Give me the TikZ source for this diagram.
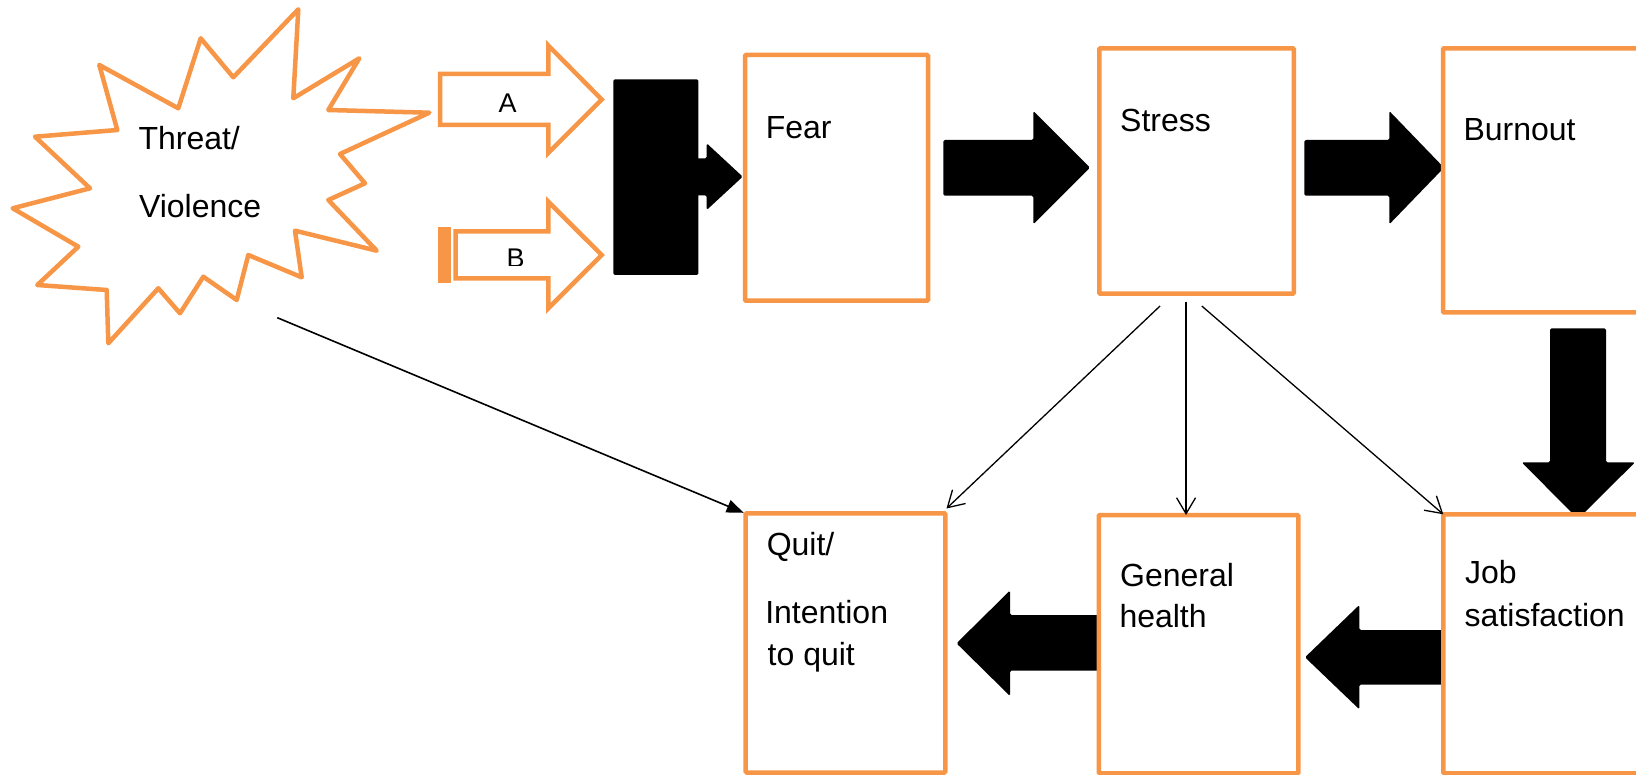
\documentclass[tikz,border=0pt]{standalone}
\usepackage{fontspec}
\setmainfont{Liberation Sans}
\usetikzlibrary{arrows.meta,calc}
\definecolor{orng}{HTML}{F79646}
\begin{document}
\begin{tikzpicture}[x=1pt,y=-1pt,
 box/.style={draw=orng, line width=4.5pt, fill=white, rectangle, inner sep=0pt, outer sep=0pt, rounded corners=1pt},
 txt/.style={anchor=base west, inner sep=0pt, outer sep=0pt, font=\fontsize{32}{38}\selectfont},
 lbl/.style={anchor=base, inner sep=0pt, outer sep=0pt, font=\fontsize{27}{32}\selectfont},
 blk/.style={fill=black, rounded corners=1.5pt},
 barb/.style={line width=1.3pt, -{Straight Barb[length=16pt,width=19pt]}},
 tri/.style={line width=1.6pt, -{Triangle[length=17pt,width=13pt]}},
 burst/.style={draw=orng, line width=4.5pt, line join=round, fill=white},
 hollow/.style={draw=orng, line width=4.5pt, line join=miter, fill=white}]
\useasboundingbox (0,0) rectangle (1636,775);
\clip (0,0) rectangle (1636,775);

% starburst
\draw[burst] (298.3,9.3) -- (293.3,98.3) -- (359.3,58.3) -- (328.3,110) -- (429.3,112.7)
 -- (340,154) -- (365,183.3) -- (328.3,200) -- (376.7,250.7) -- (295,230.7)
 -- (301.7,277.3) -- (248.3,255) -- (236.7,300) -- (203.3,276.7) -- (180,313.3)
 -- (158.3,288.3) -- (108.3,343.3) -- (106.7,290) -- (37.3,285) -- (78.3,246.7)
 -- (12.7,208.3) -- (90,188.3) -- (35,136.7) -- (117.3,130) -- (99.3,65)
 -- (178.3,108.3) -- (200.7,38.3) -- (233.3,77.3) -- cycle;
\node[txt] (threat1) at (138.5,150) {Threat/};
\node[txt] (threat2) at (139,218) {Violence};
\coordinate (threatout) at (277.3,317.7);

% hollow arrows A and B
\draw[hollow] (440,74) -- (548.3,74) -- (548.3,45.5) -- (601.7,99.5) -- (548.3,153) -- (548.3,125) -- (440,125) -- cycle;
\node[lbl] (labA) at (507.5,112.7) {A};
\fill[orng] (438.3,227.3) rectangle (451,282.7);
\draw[hollow] (455.5,231.5) -- (548.3,231.5) -- (548.3,201.7) -- (601.7,255) -- (548.3,308.3) -- (548.3,278.3) -- (455.5,278.3) -- cycle;
\begin{scope}
\clip (458,234) rectangle (546,266);
\node[lbl] (labB) at (515.5,268) {B};
\end{scope}

% black combining shape
\fill[blk] (613.3,79.3) rectangle (698.3,275);
\fill[blk] (696,158.3) -- (706.7,158.3) -- (706.7,143.3) -- (742.7,176.7) -- (706.7,210) -- (706.7,195.3) -- (696,195.3) -- cycle;

% block arrows top row
\fill[blk] (943.3,140) -- (1033.3,140) -- (1033.3,111) -- (1090,167.7) -- (1033.3,224.3) -- (1033.3,195.7) -- (943.3,195.7) -- cycle;
\fill[blk] (1304.3,140) -- (1389.3,140) -- (1389.3,111) -- (1444,167.7) -- (1389.3,224.3) -- (1389.3,195.7) -- (1304.3,195.7) -- cycle;
% down arrow
\fill[blk] (1550,328.3) -- (1606,328.3) -- (1606,462.3) -- (1635,462.3) -- (1578,519) -- (1521.7,462.3) -- (1550,462.3) -- cycle;
% left arrows bottom row
\fill[blk] (1447,630) -- (1359.3,630) -- (1359.3,605) -- (1305,657.3) -- (1359.3,709.3) -- (1359.3,684.5) -- (1447,684.5) -- cycle;
\fill[blk] (1101.7,615) -- (1010,615) -- (1010,590.5) -- (956.5,643.3) -- (1010,696) -- (1010,670.7) -- (1101.7,670.7) -- cycle;

% boxes
\node[box, minimum width=183pt, minimum height=245.7pt] (fear) at (836.5,177.85) {};
\node[box, minimum width=194.5pt, minimum height=245.4pt] (stress) at (1196.55,171) {};
\node[box, minimum width=207pt, minimum height=264.2pt] (burnout) at (1546.5,180.4) {};
\node[box, minimum width=199.6pt, minimum height=259.2pt] (quit) at (845.5,642.9) {};
\node[box, minimum width=199.5pt, minimum height=258.3pt] (gh) at (1198.55,644.15) {};
\node[box, minimum width=206.7pt, minimum height=259pt] (job) at (1546.65,643.8) {};

% texts
\node[txt] (tfear) at (765.8,139) {Fear};
\node[txt] (tstress) at (1120.2,131.7) {Stress};
\node[txt] (tburn) at (1463.5,140.7) {Burnout};
\node[txt] (tquit1) at (766.8,555) {Quit/};
\node[txt] (tquit2) at (765.3,623.3) {Intention};
\node[txt] (tquit3) at (767.7,665.7) {to quit};
\node[txt] (tgh1) at (1120.1,586) {General};
\node[txt] (tgh2) at (1119.5,627.3) {health};
\node[txt] (tjob1) at (1465,583.3) {Job};
\node[txt] (tjob2) at (1464.7,626.7) {satisfaction};

% thin connectors
\coordinate (s1) at ($(stress.south)+(-36.5,12.3)$);
\coordinate (s2) at ($(stress.south)+(-10.5,8)$);
\coordinate (s3) at ($(stress.south)+(5.2,12.3)$);
\draw[barb] (s1) -- ($(quit.north east)+(1.2,-4.8)$);
\draw[barb] (s2) -- (s2 |- gh.north);
\draw[barb] (s3) -- (job.north west);
\draw[tri] (threatout) -- ($(quit.north west)+(-2,-0.5)$);
\end{tikzpicture}
\end{document}
